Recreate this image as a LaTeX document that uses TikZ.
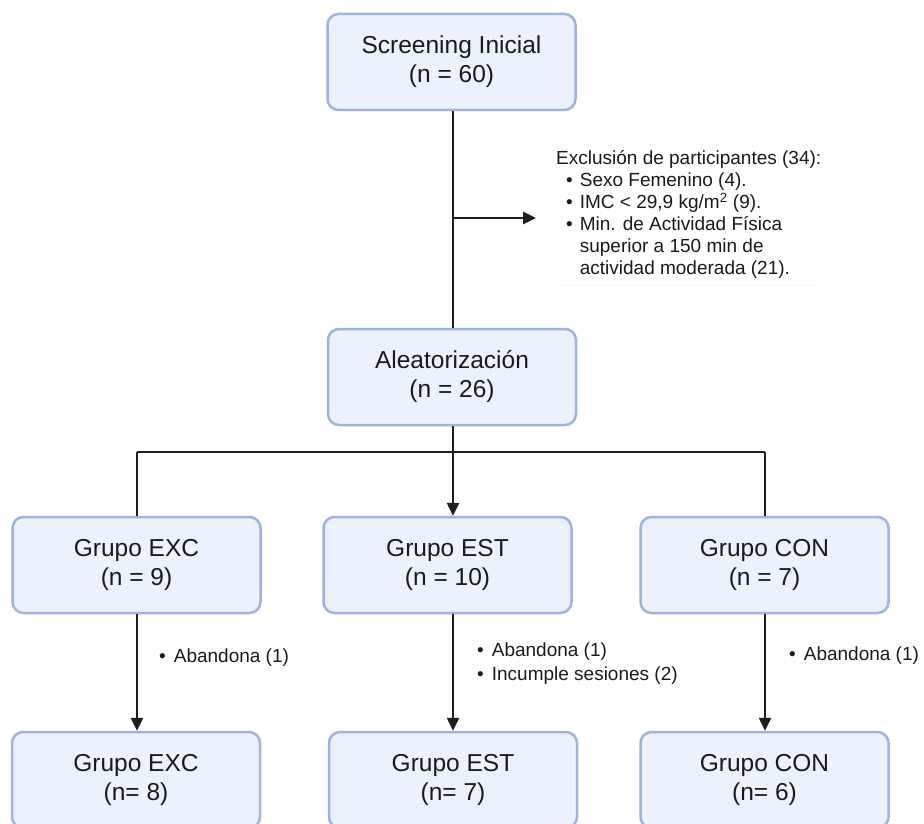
\documentclass[tikz,border=0pt]{standalone}
\usepackage{fontspec}
\setmainfont{Liberation Sans}
\usetikzlibrary{arrows.meta,calc}
\definecolor{boxfill}{HTML}{EBF2FC}
\definecolor{boxline}{HTML}{9FB4DD}
\definecolor{linec}{HTML}{1E1E1E}
\definecolor{txt}{HTML}{1A1A1A}
\begin{document}
\begin{tikzpicture}[x=1pt,y=-1pt,
  flowbox/.style={draw=boxline,fill=boxfill,line width=2.5pt,rounded corners=11pt,
    minimum width=248pt,minimum height=96pt,align=center,inner sep=0pt,
    text=txt,font=\fontsize{24.5}{29}\selectfont},
  notebox/.style={draw=black!3,rounded corners=6pt,align=left,anchor=west,
    inner sep=4pt,text=txt,font=\fontsize{19}{22}\selectfont},
  conn/.style={draw=linec,line width=2.5pt},
  arr/.style={conn,-{Triangle[width=12pt,length=13pt]}}]
\useasboundingbox (0,0) rectangle (924,824);
\clip (0,0) rectangle (924,824);
\fill[white] (0,0) rectangle (924,824);

\node[flowbox] (screen) at (451.5,62) {Screening Inicial\\(n = 60)};
\node[flowbox] (alea) at (452,377) {Aleatorización\\(n = 26)};
\node[flowbox] (exc1) at (136.5,565) {Grupo EXC\\(n = 9)};
\node[flowbox] (est1) at (447.5,565) {Grupo EST\\(n = 10)};
\node[flowbox] (con1) at (764.5,565) {Grupo CON\\(n = 7)};
\node[flowbox] (exc2) at (136,780) {Grupo EXC\\(n= 8)};
\node[flowbox] (est2) at (453,780) {Grupo EST\\(n= 7)};
\node[flowbox] (con2) at (764.5,780) {Grupo CON\\(n= 6)};

\node[notebox,anchor=north west] (excl) at (552,145) {%
  \begin{tabular}{@{}l@{\hspace{7pt}}l@{}}
  \multicolumn{2}{@{}l@{}}{Exclusión de participantes (34):}\\
  \hspace{10pt}\textbullet & Sexo Femenino (4).\\
  \hspace{10pt}\textbullet & IMC < 29,9 kg/m\textsuperscript{2} (9).\\
  \hspace{10pt}\textbullet & Min. de Actividad Física\\
   & superior a 150 min de\\
   & actividad moderada (21).
  \end{tabular}};
\node[notebox] (n1) at (155,658) {\textbullet\hspace{8pt}Abandona (1)};
\node[notebox,font=\fontsize{19}{24}\selectfont] (n2) at (473,664) {%
  \begin{tabular}{@{}l@{\hspace{8pt}}l@{}}
  \textbullet & Abandona (1)\\
  \textbullet & Incumple sesiones (2)
  \end{tabular}};
\node[notebox] (n3) at (785,656) {\textbullet\hspace{8pt}Abandona (1)};

\coordinate (split) at (453,218);
\coordinate (hl) at (137,452);
\coordinate (hr) at (765,452);

\draw[conn] (screen.south -| split) -- (alea.north -| split);
\draw[arr] (split) -- (536,218);
\draw[arr] (alea.south -| split) -- (est1.north -| split);
\draw[conn] (hl) -- (hr);
\draw[conn] (hl) -- (hl |- exc1.north);
\draw[conn] (hr) -- (hr |- con1.north);
\draw[arr] (exc1.south -| hl) -- (exc2.north -| hl);
\draw[arr] (est2.north |- est1.south) -- (est2.north);
\draw[arr] (con1.south -| hr) -- (con2.north -| hr);
\end{tikzpicture}
\end{document}
